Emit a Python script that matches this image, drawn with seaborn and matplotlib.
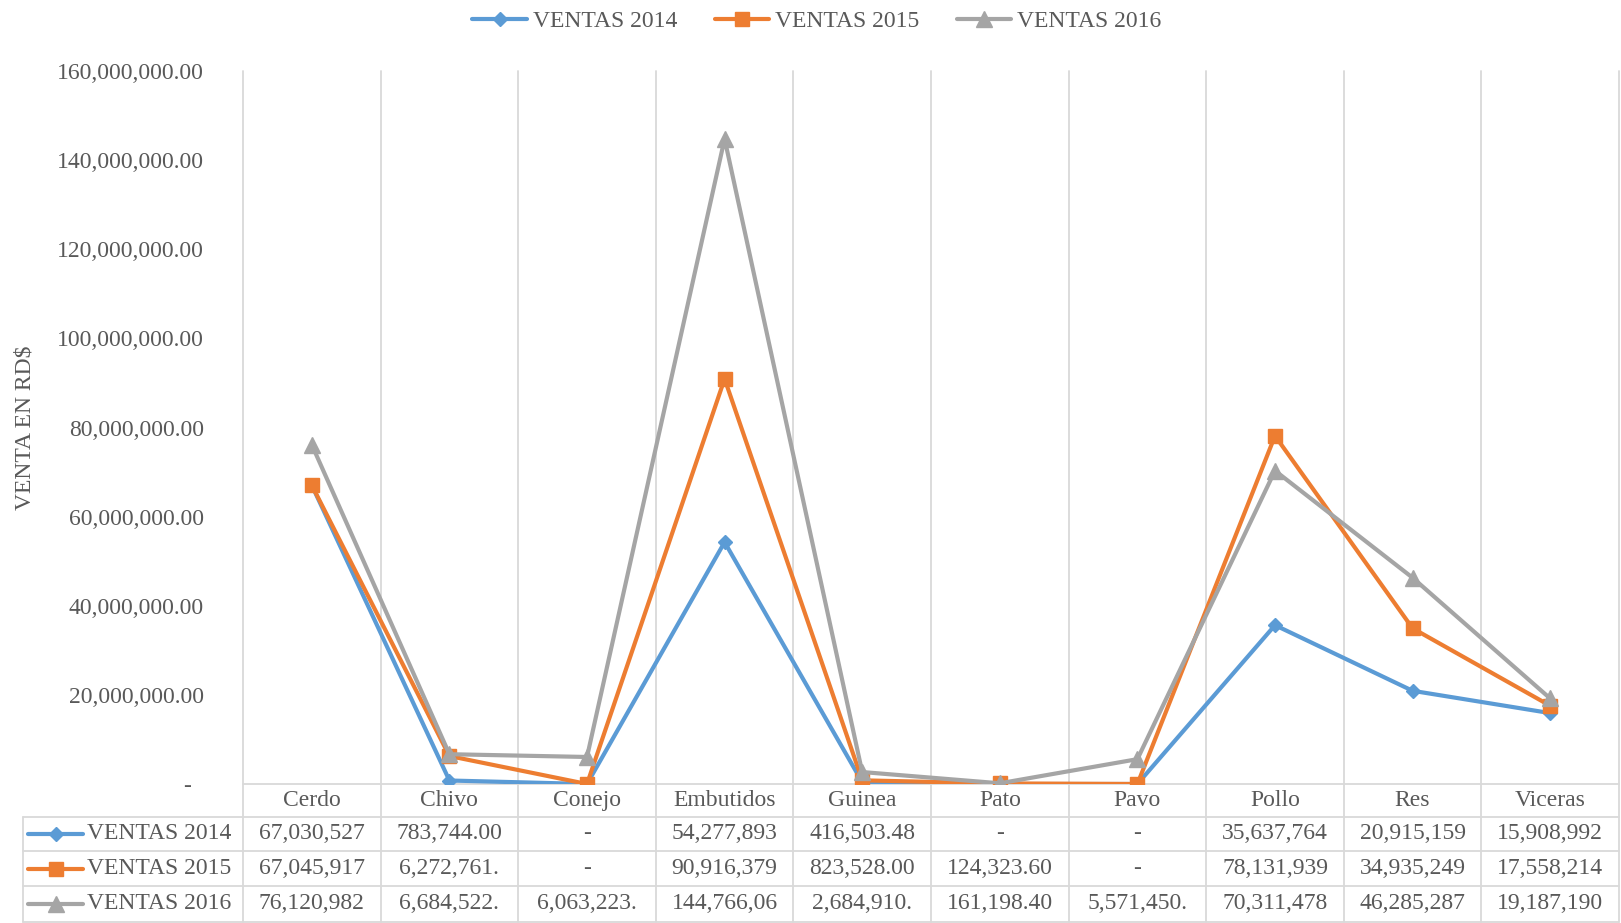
import numpy as np
import pandas as pd
import matplotlib
matplotlib.use("Agg")
import matplotlib.pyplot as plt
import matplotlib.transforms as mtransforms
from matplotlib.lines import Line2D
from matplotlib.ticker import FuncFormatter
import seaborn as sns

categorias = ["Cerdo", "Chivo", "Conejo", "Embutidos", "Guinea",
              "Pato", "Pavo", "Pollo", "Res", "Viceras"]
ventas_2014 = [67030527, 783744.00, 0, 54277893, 416503.48,
               0, 0, 35637764, 20915159, 15908992]
ventas_2015 = [67045917, 6272761, 0, 90916379, 823528.00,
               124323.60, 0, 78131939, 34935249, 17558214]
ventas_2016 = [76120982, 6684522, 6063223, 144766060, 2684910,
               161198.40, 5571450, 70311478, 46285287, 19187190]
series = ["VENTAS 2014", "VENTAS 2015", "VENTAS 2016"]
colores = ["#5B9BD5", "#ED7D31", "#A5A5A5"]
marcadores = ["D", "s", "^"]
tam_marcador = [7, 10.5, 11]

df = pd.DataFrame({
    "x": list(range(len(categorias))) * 3,
    "venta": ventas_2014 + ventas_2015 + ventas_2016,
    "serie": [s for s in series for _ in categorias],
})

sns.set_style("white")
plt.rcParams["font.family"] = ["Liberation Serif", "DejaVu Serif"]
gris_texto = "#595959"
gris_linea = "#D9D9D9"
fs = 17

fig = plt.figure(figsize=(16.21, 9.23), dpi=100)
ax = fig.add_axes([243 / 1621, 139 / 923, 1376 / 1621, 713 / 923])

for serie, color, m, ms in zip(series, colores, marcadores, tam_marcador):
    sub = df[df["serie"] == serie]
    sns.lineplot(data=sub, x="x", y="venta", ax=ax, color=color, lw=3,
                 marker=m, markersize=ms, markeredgecolor=color,
                 markeredgewidth=1, label=serie, zorder=3)

n = len(categorias)
ax.set_xlim(-0.5, n - 0.5)
ax.set_ylim(0, 160_000_000)
ax.set_yticks(np.arange(0, 160_000_001, 20_000_000))
ax.yaxis.set_major_formatter(FuncFormatter(
    lambda v, p: "-  " if v == 0 else f"{v:,.2f}"))
ax.tick_params(axis="y", length=0, pad=28, labelsize=fs, labelcolor=gris_texto)
ax.set_xticks([])
ax.set_xlabel("")
ax.set_ylabel("VENTA EN RD$", fontsize=fs, color=gris_texto)
ax.yaxis.set_label_coords(-0.151, 0.5)
for s in ["top", "bottom", "left", "right"]:
    ax.spines[s].set_visible(False)
ax.get_legend().remove()

# cuadricula y tabla de datos
trans = mtransforms.blended_transform_factory(ax.transData, ax.transAxes)
bordes_y = [-0.0463, -0.094, -0.1431, -0.1936]
centros_y = [-0.0701, -0.119, -0.1683]
x_izq = -0.16
for b in np.arange(-0.5, n, 1.0):
    ax.plot([b, b], [1, bordes_y[-1]], transform=trans, color=gris_linea,
            lw=1.3, clip_on=False, zorder=1)
ax.plot([-0.5, n - 0.5], [0, 0], transform=trans, color=gris_linea,
        lw=1.3, clip_on=False, zorder=1)
for yb in bordes_y:
    ax.plot([x_izq, 1], [yb, yb], transform=ax.transAxes, color=gris_linea,
            lw=1.3, clip_on=False)
ax.plot([x_izq, x_izq], [bordes_y[0], bordes_y[-1]], transform=ax.transAxes,
        color=gris_linea, lw=1.3, clip_on=False)

for i, c in enumerate(categorias):
    ax.text(i, -0.0232, c, transform=trans, ha="center", va="center",
            fontsize=fs, color=gris_texto)

def celda(v):
    return "-" if v == 0 else f"{v:,.2f}"[:10]

for fila, (serie, valores, color, m, ms) in enumerate(
        zip(series, [ventas_2014, ventas_2015, ventas_2016],
            colores, marcadores, tam_marcador)):
    yc = centros_y[fila]
    ax.add_line(Line2D([-0.156, -0.1163], [yc, yc], transform=ax.transAxes,
                       color=color, lw=3, clip_on=False))
    ax.add_line(Line2D([-0.136], [yc], transform=ax.transAxes, color=color,
                       marker=m, markersize=ms, markeredgecolor=color,
                       clip_on=False))
    ax.text(-0.1134, yc, serie, transform=ax.transAxes, ha="left",
            va="center", fontsize=fs, color=gris_texto)
    for i, v in enumerate(valores):
        ax.text(i, yc, celda(v), transform=trans, ha="center", va="center",
                fontsize=fs, color=gris_texto)

handles, labels = ax.get_legend_handles_labels()
fig.legend(handles, labels, loc="center", bbox_to_anchor=(0.504, 0.977),
           ncol=3, frameon=False, fontsize=fs, labelcolor=gris_texto,
           handlelength=2.3, handletextpad=0.25, columnspacing=1.6)

fig.savefig("out.png", dpi=100)
